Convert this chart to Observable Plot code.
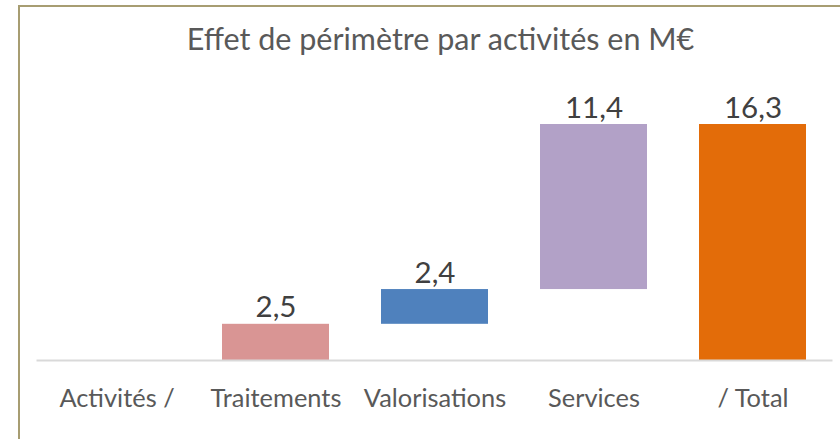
<!DOCTYPE html>
<html>
<head>
<meta charset="utf-8">
<script src="https://cdn.jsdelivr.net/npm/d3@7"></script>
<script src="https://cdn.jsdelivr.net/npm/@observablehq/plot@0.6"></script>
<style>
  body { margin: 0; background: #fff; }
  #wrap { position: relative; width: 840px; height: 439px; overflow: hidden; }
  #border { position: absolute; left: 18px; top: 5px; width: 830px; height: 440px;
            border-left: 2px solid #a79d72; border-top: 2px solid #a79d72; box-sizing: border-box; }
  #chart { position: absolute; left: 0; top: 0; }
</style>
</head>
<body>
<div id="wrap"><div id="border"></div><div id="chart"></div></div>
<script>
const title = "Effet de périmètre par activités en M€";
const categories = ["Activités /", "Traitements", "Valorisations", "Services", "/ Total"];
const values = [null, 2.5, 2.4, 11.4, 16.3];
const isTotal = [false, false, false, false, true];
const colors = ["#ffffff", "#d99594", "#4f81bd", "#b2a1c7", "#e36c09"];

// build waterfall rows
let running = 0;
const rows = [];
categories.forEach((c, i) => {
  const v = values[i];
  if (v == null) return;
  let y1, y2;
  if (isTotal[i]) { y1 = 0; y2 = v; }
  else { y1 = running; y2 = running + v; running = y2; }
  rows.push({cat: c, y1, y2, v, color: colors[i]});
});

const fmt = d3.format(".1f");
const label = v => fmt(v).replace(".", ",");

const font = "Lato, 'Open Sans', sans-serif";

const plot = Plot.plot({
  width: 840,
  height: 439,
  marginLeft: 36.5,
  marginRight: 7.5,
  marginTop: 124,
  marginBottom: 79,
  style: {fontFamily: font, background: "transparent", overflow: "visible"},
  x: {domain: categories, paddingInner: 0.327, paddingOuter: 0.1635, label: null},
  y: {domain: [0, 16.3], axis: null},
  marks: [
    Plot.barY(rows, {x: "cat", y1: "y1", y2: "y2", fill: "color"}),
    Plot.ruleY([0], {stroke: "#d9d9d9", strokeWidth: 2}),
    Plot.text(rows, {x: "cat", y: "y2", text: d => label(d.v), lineAnchor: "bottom", dy: -7,
      fontSize: 29.5, fill: "#404040"}),
    Plot.axisX({tickSize: 0, tickPadding: 28, fontSize: 25.4, color: "#595959", fill: "#595959", label: null}),
    Plot.text([title], {frameAnchor: "top", text: d => d, lineAnchor: "bottom", dy: -75, dx: 5.5,
      fontSize: 30.5, fill: "#595959"})
  ]
});
document.getElementById("chart").appendChild(plot);
</script>
</body>
</html>
